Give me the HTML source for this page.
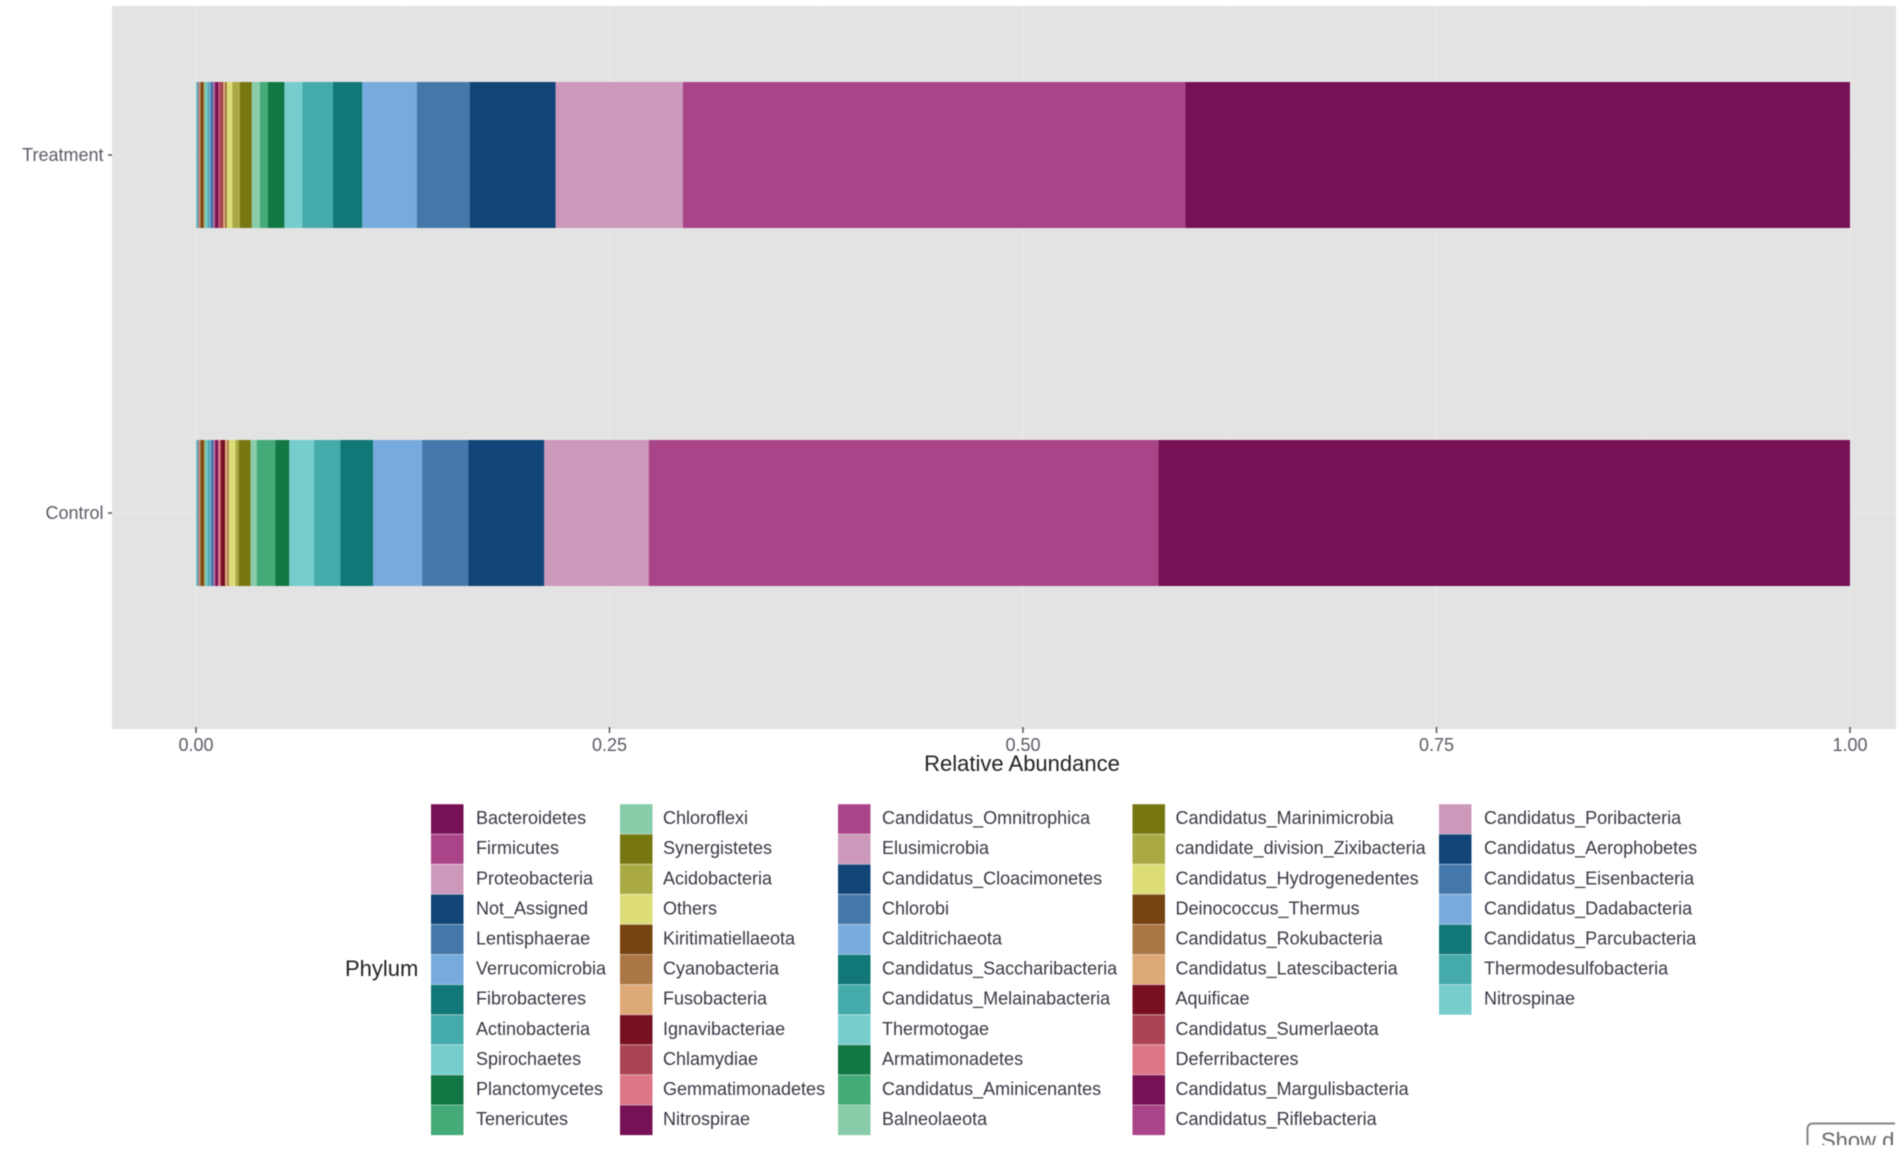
<!DOCTYPE html>
<html lang="en">
<head>
<meta charset="utf-8">
<title>Relative Abundance by Phylum</title>
<style>
html,body{margin:0;padding:0;background:#fff;width:1902px;height:1154px;overflow:hidden}
svg{display:block;font-family:"Liberation Sans",sans-serif;filter:blur(0.6px)}
</style>
</head>
<body>
<svg id="chart" xmlns="http://www.w3.org/2000/svg" width="1902" height="1154" viewBox="0 0 1902 1154">
  <defs>
    <clipPath id="show-clip"><rect x="1800" y="1118" width="95" height="27"/></clipPath>
  </defs>
  <rect x="112" y="6" width="1784" height="723" fill="#e3e3e3"/>
  <g id="grid"></g>
  <g id="bars"></g>
  <g id="axes"></g>
  <text x="1022" y="771" font-size="22" fill="#222" text-anchor="middle">Relative Abundance</text>
  <g id="legend">
    <text x="345" y="976" font-size="22" fill="#222">Phylum</text>
  </g>
  <g clip-path="url(#show-clip)">
    <rect x="1807.5" y="1123.5" width="120" height="50" rx="5" fill="#fff" stroke="#858585" stroke-width="2"/>
    <text x="1821" y="1148" font-size="22" fill="#666">Show d</text>
  </g>
</svg>
<script>
const categories = ["Treatment", "Control"];
const xTicks = [0, 0.25, 0.5, 0.75, 1];
const xTickLabels = ["0.00", "0.25", "0.50", "0.75", "1.00"];
const phylumNames = [
  "Bacteroidetes","Firmicutes","Proteobacteria","Not_Assigned","Lentisphaerae","Verrucomicrobia","Fibrobacteres","Actinobacteria","Spirochaetes","Planctomycetes","Tenericutes",
  "Chloroflexi","Synergistetes","Acidobacteria","Others","Kiritimatiellaeota","Cyanobacteria","Fusobacteria","Ignavibacteriae","Chlamydiae","Gemmatimonadetes","Nitrospirae",
  "Candidatus_Omnitrophica","Elusimicrobia","Candidatus_Cloacimonetes","Chlorobi","Calditrichaeota","Candidatus_Saccharibacteria","Candidatus_Melainabacteria","Thermotogae","Armatimonadetes","Candidatus_Aminicenantes","Balneolaeota",
  "Candidatus_Marinimicrobia","candidate_division_Zixibacteria","Candidatus_Hydrogenedentes","Deinococcus_Thermus","Candidatus_Rokubacteria","Candidatus_Latescibacteria","Aquificae","Candidatus_Sumerlaeota","Deferribacteres","Candidatus_Margulisbacteria","Candidatus_Riflebacteria",
  "Candidatus_Poribacteria","Candidatus_Aerophobetes","Candidatus_Eisenbacteria","Candidatus_Dadabacteria","Candidatus_Parcubacteria","Thermodesulfobacteria","Nitrospinae"
];
const paletteColors = ["#771155","#AA4488","#CC99BB","#114477","#4477AA","#77AADD","#117777","#44AAAA","#77CCCC","#117744","#44AA77","#88CCAA","#777711","#AAAA44","#DDDD77","#774411","#AA7744","#DDAA77","#771122","#AA4455","#DD7788"];
const treatmentValues = [
  0.402,0.304,0.077,0.052,0.032,0.033,0.0177,0.0185,0.0109,0.0100,0.0048,
  0.0049,0.0072,0.0046,0.0034,0.0006,0.0004,0.0012,0.0004,0.0020,0.0004,0.0020,
  0.0008,0.0004,0.0004,0.0012,0.0008,0.0002,0.0008,0.0014,0.0001,0.0001,0.0001,
  0.0003,0.0002,0.0002,0.0016,0.0008,0.0002,0.0001,0.0001,0.0001,0.0001,0.0001,
  0.0001,0.0001,0.0001,0.0001,0.0002,0.0003,0.0006
];
const controlValues = [
  0.418,0.308,0.0632,0.0458,0.028,0.0297,0.0197,0.0159,0.015,0.0085,0.0112,
  0.0037,0.0072,0.002,0.004,0.0004,0.0004,0.0014,0.0026,0.0004,0.0012,0.0016,
  0.0006,0.0006,0.0004,0.0012,0.0008,0.0002,0.0010,0.0012,0.0001,0.0001,0.0001,
  0.0003,0.0002,0.0002,0.0018,0.0008,0.0002,0.0001,0.0001,0.0001,0.0001,0.0001,
  0.0001,0.0001,0.0001,0.0001,0.0002,0.0003,0.0006
];

const NS = "http://www.w3.org/2000/svg";
function make(tag, parent, attrs, content) {
  const node = document.createElementNS(NS, tag);
  for (const k in attrs) node.setAttribute(k, attrs[k]);
  if (content !== undefined) node.textContent = content;
  parent.appendChild(node);
  return node;
}
function xScale(v) { return 196 + v * 1654; }
function yCenter(i) { return 155 + i * 358; }
const barHeight = 146;

const gridG = document.getElementById("grid");
const barsG = document.getElementById("bars");
const axesG = document.getElementById("axes");
const legendG = document.getElementById("legend");

// minor vertical grid lines (midpoints between ticks)
for (let i = 0; i < xTicks.length - 1; i++) {
  const mid = (xTicks[i] + xTicks[i + 1]) / 2;
  const el = make("line", gridG, {x1: xScale(mid), x2: xScale(mid), y1: 6, y2: 729, stroke: "#e6e6e6", "stroke-width": 1});
  
  
}
// major vertical grid lines, ticks, tick labels
xTicks.forEach(function (t, i) {
  const x = xScale(t);
  const g = make("line", gridG, {x1: x, x2: x, y1: 6, y2: 729, stroke: "#e8e8e8", "stroke-width": 1.5});
  
  
  const tk = make("line", axesG, {x1: x, x2: x, y1: 727, y2: 733, stroke: "#555", "stroke-width": 1.5});
  
  
  const lb = make("text", axesG, {x: x, y: 751, "font-size": 18, fill: "#585c64", "text-anchor": "middle"}, xTickLabels[i]);
  
  
});
// categories: horizontal grid, ticks, labels, stacked bars
categories.forEach(function (cat, ci) {
  const y = yCenter(ci);
  const g = make("line", gridG, {x1: 112, x2: 1896, y1: y, y2: y, stroke: "#e8e8e8", "stroke-width": 1.5});
  
  
  const tk = make("line", axesG, {x1: 108, x2: 112, y1: y, y2: y, stroke: "#555", "stroke-width": 1.5});
  
  
  const lb = make("text", axesG, {x: 103.5, y: y + 6, "font-size": 18, fill: "#5f5a66", "text-anchor": "end"}, cat);
  
  

  const vals = ci === 0 ? treatmentValues : controlValues;
  const total = vals.reduce(function (a, b) { return a + b; }, 0);
  let cum = 0;
  // last phylum sits at the left end; first phylum at the right
  for (let s = phylumNames.length - 1; s >= 0; s--) {
    const x0 = xScale(cum / total);
    cum += vals[s];
    const x1 = xScale(cum / total);
    const r = make("rect", barsG, {x: x0, y: y - barHeight / 2, width: x1 - x0, height: barHeight, fill: paletteColors[s % paletteColors.length]});
    
    
  }
});
// legend
const rowsPerColumn = 11;
const keyColumns = [431, 620, 838, 1132.5, 1439];
const labelColumns = [476, 663, 882, 1175.5, 1484];
const rowStep = 30.1;
phylumNames.forEach(function (name, i) {
  const col = Math.floor(i / rowsPerColumn);
  const row = i % rowsPerColumn;
  const top = 804 + row * rowStep;
  const key = make("rect", legendG, {x: keyColumns[col], y: top, width: 32.5, height: rowStep, fill: paletteColors[i % paletteColors.length]});
  
  
  const sep = make("line", legendG, {x1: keyColumns[col], x2: keyColumns[col] + 32.5, y1: top, y2: top, stroke: "#ffffff", "stroke-opacity": 0.45, "stroke-width": 1});
  
  
  const t = make("text", legendG, {x: labelColumns[col], y: top + rowStep / 2 + 5, "font-size": 18, fill: "#383844"}, name);
  
  
});
</script>
</body>
</html>
